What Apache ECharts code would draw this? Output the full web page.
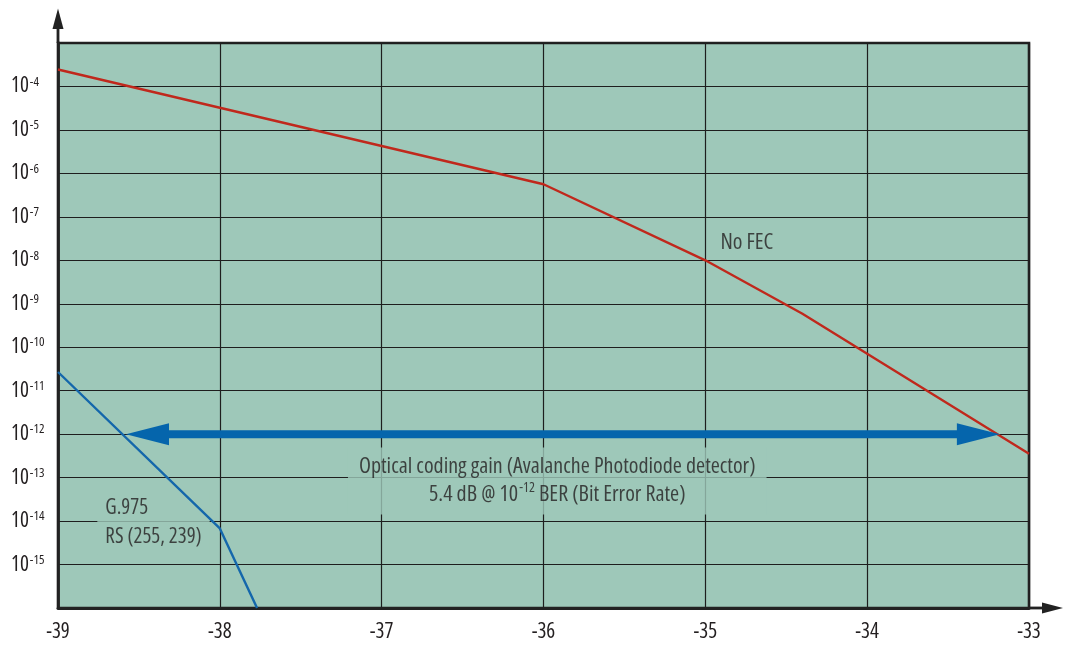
<!DOCTYPE html>
<html>
<head>
<meta charset="utf-8">
<script src="https://cdn.jsdelivr.net/npm/echarts@6/dist/echarts.min.js"></script>
<style>
  html, body { margin: 0; padding: 0; background: #ffffff; }
  #chart { width: 1065px; height: 645px; }
</style>
</head>
<body>
<div id="chart"></div>
<script>
// ---- data (x: received optical power in dBm, y: log10 of BER) ----
const xTicks = [-39, -38, -37, -36, -35, -34, -33];
const yLabelExponents = [-4, -5, -6, -7, -8, -9, -10, -11, -12, -13, -14, -15];

const noFecX = [-39, -36, -35, -34.40, -33];
const noFecLogBER = [-3.61, -6.25, -8.0, -9.23, -12.45];

const rsX = [-39, -38, -37.77];
const rsLogBER = [-10.57, -14.17, -16];

const gainFromX = -38.58;
const gainToX = -33.18;
const gainLogBER = -12;

const labelNoFec = 'No FEC';
const labelRs = ['G.975', 'RS (255, 239)'];
const labelGainLine1 = 'Optical coding gain (Avalanche Photodiode detector)';
const labelGainLine2 = ['5.4 dB @ 10', '-12', ' BER (Bit Error Rate)'];

// ---- styling ----
const FONT = "'Open Sans', 'DejaVu Sans Condensed', sans-serif";
const STRETCH = 'condensed';
const WEIGHT = 500;
const TEXT = '#231f20';
const BG = '#9ec8b9';
const RED = '#c0281c';
const BLUE = '#1467ab';
const ARROW = '#0565ac';
const AXIS = '#222222';

const txt = (size, extra) => Object.assign({ fontFamily: FONT, fontStyle: STRETCH, fontWeight: WEIGHT, fontSize: size, color: TEXT }, extra || {});
const toPairs = (xs, es) => xs.map((x, i) => [x, Math.pow(10, es[i])]);

const chart = echarts.init(document.getElementById('chart'), null, { renderer: 'canvas' });

const option = {
  animation: false,
  backgroundColor: '#ffffff',
  grid: {
    left: 58, right: 36, top: 43, bottom: 37,
    show: true,
    backgroundColor: BG,
    borderColor: AXIS,
    borderWidth: 2.6
  },
  xAxis: {
    type: 'value',
    min: xTicks[0],
    max: xTicks[xTicks.length - 1],
    interval: 1,
    axisLine: { show: true, onZero: false, lineStyle: { color: AXIS, width: 2.8 } },
    axisTick: { show: false },
    splitLine: { show: true, lineStyle: { color: '#1e1e1e', width: 1.2 } },
    axisLabel: txt(21, {
      margin: 13, lineHeight: 22,
      formatter: v => (xTicks.indexOf(v) >= 0 ? String(v) : '')
    })
  },
  yAxis: {
    type: 'log',
    logBase: 10,
    min: 1e-16,
    max: 1e-3,
    interval: 1,
    axisLine: { show: true, lineStyle: { color: AXIS, width: 2.8 } },
    axisTick: { show: false },
    splitLine: { show: true, lineStyle: { color: '#1e1e1e', width: 1.2 } },
    axisLabel: {
      margin: 47,
      align: 'left',
      formatter: v => {
        const e = Math.round(Math.log10(v));
        if (yLabelExponents.indexOf(e) < 0) return '';
        return '{b|10}{s|' + e + '}';
      },
      rich: {
        b: txt(21, { lineHeight: 22 }),
        s: txt(13, { lineHeight: 15, verticalAlign: 'top', padding: [0, 0, 0, 1] })
      }
    }
  },
  series: [
    {
      name: 'No FEC',
      type: 'line',
      z: 3,
      data: toPairs(noFecX, noFecLogBER),
      symbol: 'none',
      lineStyle: { color: RED, width: 2.4 },
      silent: true
    },
    {
      name: 'G.975 RS (255, 239)',
      type: 'line',
      z: 3,
      data: toPairs(rsX, rsLogBER),
      symbol: 'none',
      lineStyle: { color: BLUE, width: 2.4 },
      silent: true
    },
    {
      name: 'coding gain',
      type: 'custom',
      z: 4,
      silent: true,
      encode: { x: [0, 1], y: 2 },
      data: [[gainFromX, gainToX, Math.pow(10, gainLogBER)]],
      renderItem: (params, api) => {
        const a = api.coord([api.value(0), api.value(2)]);
        const b = api.coord([api.value(1), api.value(2)]);
        const headLen = 43, headHalf = 11;
        return {
          type: 'group',
          children: [
            { type: 'line', shape: { x1: a[0] + headLen - 2, y1: a[1], x2: b[0] - headLen + 2, y2: b[1] }, style: { stroke: ARROW, lineWidth: 8 } },
            { type: 'polygon', shape: { points: [[a[0], a[1]], [a[0] + headLen, a[1] - headHalf], [a[0] + headLen, a[1] + headHalf]] }, style: { fill: ARROW } },
            { type: 'polygon', shape: { points: [[b[0], b[1]], [b[0] - headLen, b[1] - headHalf], [b[0] - headLen, b[1] + headHalf]] }, style: { fill: ARROW } }
          ]
        };
      }
    },
    {
      name: 'annotations',
      type: 'scatter',
      z: 1,
      silent: true,
      symbolSize: 1,
      itemStyle: { color: 'rgba(0,0,0,0)' },
      data: [
        {
          value: [-34.91, Math.pow(10, -7.6)],
          label: txt(22, {
            show: true, position: 'right', distance: 0,
            formatter: () => labelNoFec
          })
        },
        {
          value: [-38.76, Math.pow(10, -14.03)],
          label: txt(21, {
            show: true, position: 'right', distance: 0, lineHeight: 29,
            backgroundColor: BG, padding: [3, 8, 3, 8],
            formatter: () => labelRs.join('\n')
          })
        },
        {
          value: [-35.915, Math.pow(10, -13.08)],
          label: {
            show: true, position: 'inside', align: 'center', verticalAlign: 'middle',
            backgroundColor: BG, padding: [5, 11, 6, 11],
            formatter: () => '{t|' + labelGainLine1 + '}\n{t|' + labelGainLine2[0] + '}{s|' + labelGainLine2[1] + '}{t|' + labelGainLine2[2] + '}',
            rich: {
              t: txt(22, { lineHeight: 28 }),
              s: txt(14, { lineHeight: 20, verticalAlign: 'top', padding: [0, 0, 0, 1] })
            }
          }
        }
      ]
    }
  ]
};

chart.setOption(option);

// axis extensions with arrowheads
const tl = chart.convertToPixel({ gridIndex: 0 }, [xTicks[0], 1e-3]);
const br = chart.convertToPixel({ gridIndex: 0 }, [xTicks[xTicks.length - 1], 1e-16]);
chart.setOption({
  graphic: [
    { type: 'line', silent: true, shape: { x1: tl[0], y1: tl[1], x2: tl[0], y2: tl[1] - 16 }, style: { stroke: AXIS, lineWidth: 2.8 } },
    { type: 'polygon', silent: true, shape: { points: [[tl[0] - 5.5, tl[1] - 14], [tl[0] + 5.5, tl[1] - 14], [tl[0], tl[1] - 34.5]] }, style: { fill: AXIS } },
    { type: 'line', silent: true, shape: { x1: br[0], y1: br[1], x2: br[0] + 15, y2: br[1] }, style: { stroke: AXIS, lineWidth: 2.8 } },
    { type: 'polygon', silent: true, shape: { points: [[br[0] + 13, br[1] - 5.5], [br[0] + 13, br[1] + 5.5], [br[0] + 34, br[1]]] }, style: { fill: AXIS } }
  ]
});
</script>
</body>
</html>
